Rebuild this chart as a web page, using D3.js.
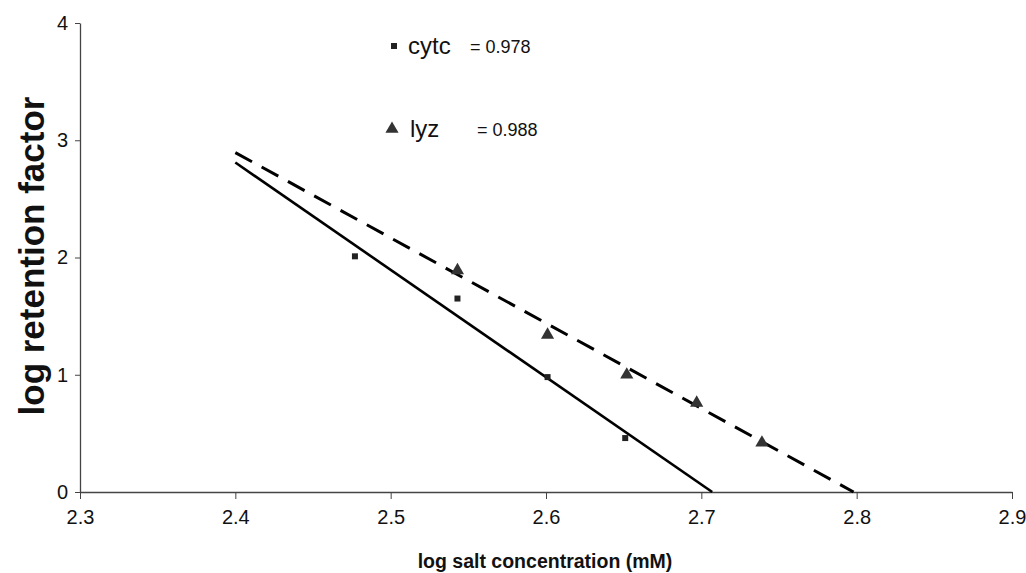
<!DOCTYPE html>
<html>
<head>
<meta charset="utf-8">
<script src="https://cdn.jsdelivr.net/npm/d3@7"></script>
<style>
    body { margin: 0; background: #fff; }
    svg text { font-family: "Liberation Sans", Arial, sans-serif; fill: #111; }
</style>
</head>
<body>
<div id="chart"></div>
<script>
// measured points
const cytcX = [2.477, 2.543, 2.601, 2.651];
const cytcY = [2.01, 1.65, 0.98, 0.46];
const lyzX = [2.543, 2.601, 2.652, 2.697, 2.739];
const lyzY = [1.89, 1.34, 1.00, 0.76, 0.42];

// trend lines (start / end)
const cytcFitX = [2.4, 2.707];
const cytcFitY = [2.81, 0];
const lyzFitX = [2.4, 2.798];
const lyzFitY = [2.895, 0];

const xTicks = [2.3, 2.4, 2.5, 2.6, 2.7, 2.8, 2.9];
const yTicks = [0, 1, 2, 3, 4];
const seriesNames = ["cytc", "lyz"];
const r2Labels = ["= 0.978", "= 0.988"];

const width = 1026, height = 573;
const margin = {top: 23, right: 14, bottom: 81, left: 80};

const svg = d3.select("#chart").append("svg")
    .attr("width", width)
    .attr("height", height);

const x = d3.scaleLinear().domain([2.3, 2.9]).range([margin.left, width - margin.right]);
const y = d3.scaleLinear().domain([0, 4]).range([height - margin.bottom, margin.top]);

// x axis
const gx = svg.append("g")
    .attr("transform", `translate(0,${y(0)})`)
    .call(d3.axisBottom(x).tickValues(xTicks).tickFormat(d3.format(".1f")).tickSizeInner(7).tickSizeOuter(0).tickPadding(11));
gx.select(".domain").attr("stroke", "#444").attr("stroke-width", 1.3);
gx.selectAll(".tick line").attr("stroke", "#444");
gx.selectAll("text").style("font-size", "20px").attr("fill", "#111");

// y axis
const gy = svg.append("g")
    .attr("transform", `translate(${x(2.3)},0)`)
    .call(d3.axisLeft(y).tickValues(yTicks).tickFormat(d3.format("d")).tickSizeInner(5).tickSizeOuter(0).tickPadding(7));
gy.select(".domain").attr("stroke", "#444").attr("stroke-width", 1.3);
gy.selectAll(".tick line").attr("stroke", "#444");
gy.selectAll("text").style("font-size", "20px").attr("fill", "#111");

// axis titles
svg.append("text")
    .attr("x", 545)
    .attr("y", 568)
    .attr("text-anchor", "middle")
    .style("font-size", "19.5px")
    .style("font-weight", "bold")
    .text("log salt concentration (mM)");

svg.append("text")
    .attr("transform", "translate(44,256) rotate(-90)")
    .attr("text-anchor", "middle")
    .style("font-size", "35px")
    .style("font-weight", "bold")
    .text("log retention factor");

// fit lines
const line = d3.line().x(d => x(d[0])).y(d => y(d[1]));

svg.append("path")
    .datum(d3.zip(cytcFitX, cytcFitY))
    .attr("d", line)
    .attr("fill", "none")
    .attr("stroke", "#000")
    .attr("stroke-width", 2.6);

svg.append("path")
    .datum(d3.zip(lyzFitX, lyzFitY))
    .attr("d", line)
    .attr("fill", "none")
    .attr("stroke", "#000")
    .attr("stroke-width", 3)
    .attr("stroke-dasharray", "19,11");

// markers
const square = d3.symbol().type(d3.symbolSquare).size(36);
const triangle = d3.symbol().type(d3.symbolTriangle).size(75);

svg.selectAll(".cytc")
    .data(d3.zip(cytcX, cytcY))
    .enter().append("path")
    .attr("class", "cytc")
    .attr("d", square)
    .attr("transform", d => `translate(${x(d[0])},${y(d[1])})`)
    .attr("fill", "#222");

svg.selectAll(".lyz")
    .data(d3.zip(lyzX, lyzY))
    .enter().append("path")
    .attr("class", "lyz")
    .attr("d", triangle)
    .attr("transform", d => `translate(${x(d[0])},${y(d[1])})`)
    .attr("fill", "#333");

// legend
const legend = svg.append("g");
const legY = [46, 129];
legend.append("path").attr("d", square).attr("transform", `translate(394,${legY[0]})`).attr("fill", "#222");
legend.append("path").attr("d", triangle).attr("transform", `translate(392,${legY[1]})`).attr("fill", "#333");

legend.selectAll(".lname")
    .data(seriesNames)
    .enter().append("text")
    .attr("x", (d, i) => i === 0 ? 408 : 410)
    .attr("y", (d, i) => legY[i] + 8)
    .style("font-size", "24px")
    .text(d => d);

legend.selectAll(".lr2")
    .data(r2Labels)
    .enter().append("text")
    .attr("x", (d, i) => i === 0 ? 470 : 477)
    .attr("y", (d, i) => legY[i] + 7)
    .style("font-size", "18px")
    .text(d => d);
</script>
</body>
</html>
